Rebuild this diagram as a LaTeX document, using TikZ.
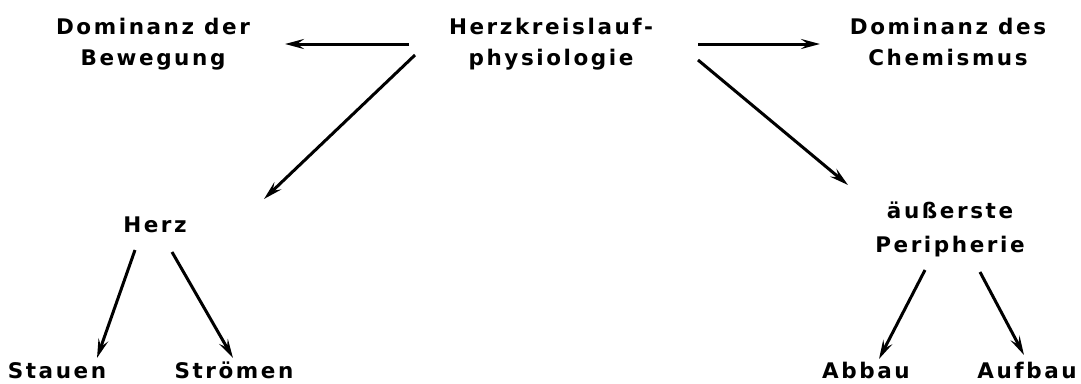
\documentclass[tikz,border=0pt]{standalone}
\usepackage{fontspec}
\setmainfont{DejaVu Sans}
\newfontfamily\lblfont{DejaVu Sans Bold}[LetterSpace=12]
\usetikzlibrary{arrows.meta}
\begin{document}
\begin{tikzpicture}[x=1pt,y=-1pt,
  lbl/.style={font=\lblfont\fontsize{21.5}{31}\selectfont, inner sep=0pt, align=center, anchor=base},
  arr/.style={line width=3pt, -{Stealth[length=19pt,width=10pt,inset=7pt]}}]
\useasboundingbox (0,0) rectangle (1081,383);
\node[lbl] (bew) at (153,65) {Dominanz der\\Bewegung};
\node[lbl] (top) at (551,65) {Herzkreislauf-\\physiologie};
\node[lbl] (chem) at (948,65) {Dominanz des\\Chemismus};
\node[lbl] (herz) at (155,232) {Herz};
\node[lbl, font=\lblfont\fontsize{21.5}{34}\selectfont] (peri) at (950,252) {äußerste\\Peripherie};
\node[lbl] (stau) at (57,378) {Stauen};
\node[lbl] (stroem) at (234,378) {Strömen};
\node[lbl] (abb) at (866,378) {Abbau};
\node[lbl] (aufb) at (1027,378) {Aufbau};
\coordinate (a1s) at (409,44); \coordinate (a1e) at (285,44);
\coordinate (a2s) at (698,44); \coordinate (a2e) at (820,44);
\coordinate (a3s) at (415,55); \coordinate (a3e) at (264,199);
\coordinate (a4s) at (698,60); \coordinate (a4e) at (848,185);
\coordinate (a5s) at (135,250); \coordinate (a5e) at (97,358);
\coordinate (a6s) at (172,252); \coordinate (a6e) at (233,358);
\coordinate (a7s) at (925,270); \coordinate (a7e) at (879,359);
\coordinate (a8s) at (980,272); \coordinate (a8e) at (1024,355);
\draw[arr] (a1s) -- (a1e);
\draw[arr] (a2s) -- (a2e);
\draw[arr] (a3s) -- (a3e);
\draw[arr] (a4s) -- (a4e);
\draw[arr] (a5s) -- (a5e);
\draw[arr] (a6s) -- (a6e);
\draw[arr] (a7s) -- (a7e);
\draw[arr] (a8s) -- (a8e);
\end{tikzpicture}
\end{document}
